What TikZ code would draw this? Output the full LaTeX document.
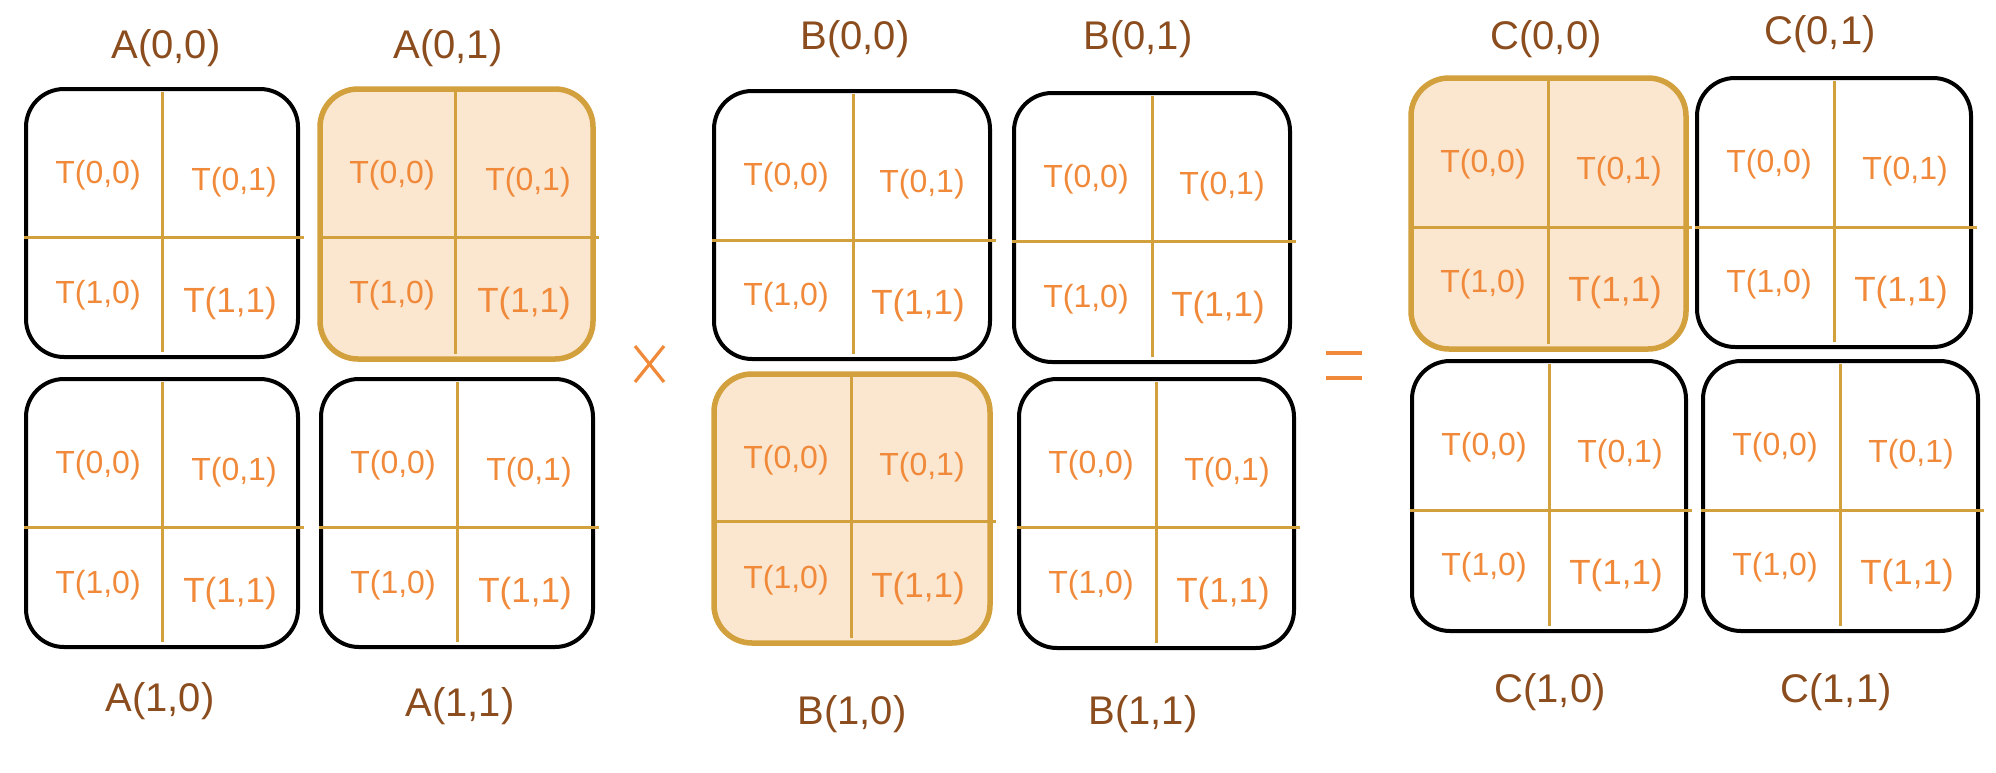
\documentclass[tikz,border=0pt]{standalone}
\usepackage{fontspec}
\setmainfont{Liberation Sans}
\definecolor{torange}{RGB}{240,138,58}
\definecolor{lbrown}{RGB}{139,76,30}
\definecolor{gold}{RGB}{210,160,60}
\definecolor{hfill}{RGB}{251,230,208}
\tikzset{
  plainbox/.style={draw=black, line width=4pt, rounded corners=38pt, inner sep=0pt},
  hibox/.style={draw=gold, fill=hfill, line width=5.5pt, rounded corners=38pt, inner sep=0pt},
  divider/.style={draw=gold, line width=3pt},
  ttext/.style={text=torange, font=\fontsize{32}{38}\selectfont, inner sep=0pt, anchor=base},
  tbig/.style={text=torange, font=\fontsize{35}{42}\selectfont, inner sep=0pt, anchor=base},
  lbl/.style={text=lbrown, font=\fontsize{40}{48}\selectfont, inner sep=0pt, anchor=base},
  opline/.style={draw=torange, line width=3.2pt}
}
\newcommand\mktile[8]{%
  \node[#8, minimum width={#4-#2}, minimum height={#5-#3}] (#1) at ({(#2+#4)/2},{(#3+#5)/2}) {};
  \draw[divider] (#6,#3+3) -- (#6,#5-5);
  \draw[divider] (#2-2,#7) -- (#4+6,#7);
  \node[ttext] (#1t00) at (#2+72,#3+94) {T(0,0)};
  \node[ttext] (#1t01) at (#2+208,#3+101) {T(0,1)};
  \node[ttext] (#1t10) at (#2+72,#3+214) {T(1,0)};
  \node[tbig] (#1t11) at (#2+204,#3+223) {T(1,1)};
}
\begin{document}
\begin{tikzpicture}[x=1pt,y=-1pt]
\useasboundingbox (0,0) rectangle (1996,772);
% A
\mktile{A00}{26}{89}{298}{357}{162}{237}{plainbox}
\mktile{A01}{320}{89}{593}{359}{455}{237}{hibox}
\mktile{A10}{26}{379}{298}{647}{162}{527}{plainbox}
\mktile{A11}{321}{379}{593}{647}{457}{527}{plainbox}
% B
\mktile{B00}{714}{91}{990}{359}{853}{240}{plainbox}
\mktile{B01}{1014}{93}{1290}{362}{1152}{241}{plainbox}
\mktile{B10}{714}{374}{990}{643}{851}{521}{hibox}
\mktile{B11}{1019}{379}{1294}{648}{1156}{527}{plainbox}
% C
\mktile{C00}{1411}{78}{1686}{349}{1548}{227}{hibox}
\mktile{C01}{1697}{78}{1971}{347}{1834}{227}{plainbox}
\mktile{C10}{1412}{361}{1686}{631}{1549}{510}{plainbox}
\mktile{C11}{1703}{361}{1978}{631}{1840}{510}{plainbox}
% labels
\node[lbl] (lA00) at (166,58) {A(0,0)};
\node[lbl] (lA01) at (448,58) {A(0,1)};
\node[lbl] (lA10) at (160,711) {A(1,0)};
\node[lbl] (lA11) at (460,716) {A(1,1)};
\node[lbl] (lB00) at (855,49) {B(0,0)};
\node[lbl] (lB01) at (1138,49) {B(0,1)};
\node[lbl] (lB10) at (852,724) {B(1,0)};
\node[lbl] (lB11) at (1143,724) {B(1,1)};
\node[lbl] (lC00) at (1546,49) {C(0,0)};
\node[lbl] (lC01) at (1820,44) {C(0,1)};
\node[lbl] (lC10) at (1550,702) {C(1,0)};
\node[lbl] (lC11) at (1836,702) {C(1,1)};
% operators (times and equals signs)
\draw[opline] (635,346) -- (664,382);
\draw[opline] (635,382) -- (664,346);
\draw[opline, line width=4pt] (1326,353) -- (1362,353);
\draw[opline, line width=4pt] (1326,378) -- (1362,378);
\end{tikzpicture}
\end{document}
